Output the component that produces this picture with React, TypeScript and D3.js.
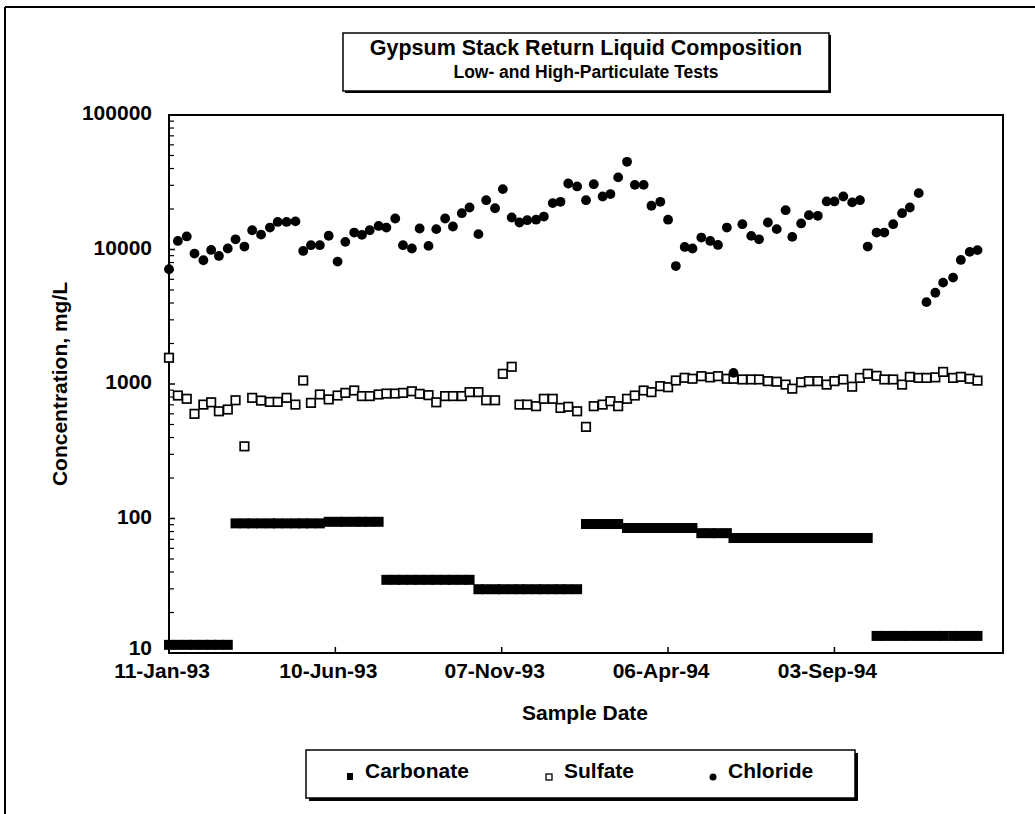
import React from 'react';
import * as d3 from 'd3';

// ---------- data ----------
const startDate = new Date(Date.UTC(1993, 0, 11));
const endDate = new Date(Date.UTC(1995, 1, 2));

// sample dates, days after 11-Jan-93
const sampleDays = [
  0, 8, 16, 23, 31, 38, 45, 53, 60, 68,
  75, 83, 91, 98, 106, 114, 121, 128, 136, 144,
  152, 159, 167, 174, 181, 189, 196, 204, 211, 219,
  226, 234, 241, 249, 256, 264, 271, 279, 286, 294,
  301, 309, 316, 323, 331, 338, 346, 353, 360, 368,
  376, 383, 391, 398, 405, 413, 420, 428, 435, 443,
  450, 457, 465, 472, 480, 488, 495, 503, 509, 517,
  525, 532, 540, 548, 556, 562, 570, 577, 585, 593,
  600, 608, 616, 623, 630, 638, 645, 653, 661, 668,
  676, 683, 691, 698, 707, 714, 722, 729,
];

const carbonate = [
  11.5, 11.5, 11.5, 11.5, 11.5, 11.5, 11.5, 11.5, 92, 92,
  92, 92, 92, 92, 92, 92, 92, 92, 92, 94.5,
  94.5, 94.5, 94.5, 94.5, 94.5, 94.5, 35, 35, 35, 35,
  35, 35, 35, 35, 35, 35, 35, 29.8, 29.8, 29.8,
  29.8, 29.8, 29.8, 29.8, 29.8, 29.8, 29.8, 29.8, 29.8, 29.8,
  91, 91, 91, 91, 91, 85, 85, 85, 85, 85,
  85, 85, 85, 85, 77.8, 77.8, 77.8, 77.8, 71.6, 71.6,
  71.6, 71.6, 71.6, 71.6, 71.6, 71.6, 71.6, 71.6, 71.6, 71.6,
  71.6, 71.6, 71.6, 71.6, 71.6, 13.4, 13.4, 13.4, 13.4, 13.4,
  13.4, 13.4, 13.4, 13.4, 13.4, 13.4, 13.4, 13.4,
];

const sulfate = [
  1567, 821, 776, 600, 703, 731, 627, 646, 757, 344,
  789, 753, 736, 736, 789, 703, 1062, 724, 836, 768,
  821, 859, 895, 813, 813, 836, 849, 849, 859, 883,
  845, 826, 731, 813, 813, 813, 870, 870, 757, 757,
  1191, 1343, 703, 703, 684, 776, 776, 664, 677, 627,
  480, 684, 703, 745, 684, 776, 821, 895, 870, 964,
  946, 1062, 1112, 1094, 1143, 1120, 1143, 1094, 1094, 1081,
  1081, 1081, 1050, 1040, 990, 923, 1030, 1050, 1050, 990,
  1050, 1081, 955, 1110, 1191, 1150, 1081, 1081, 990, 1130,
  1110, 1110, 1120, 1230, 1110, 1130, 1094, 1060,
];

const chloride = [
  7130, 11580, 12500, 9330, 8320, 9930, 8960, 10170, 11910, 10520,
  13900, 12900, 14560, 16030, 16030, 16180, 9760, 10760, 10760, 12650,
  8130, 11400, 13370, 12840, 13900, 14960, 14560, 17000, 10760, 10170,
  14330, 10640, 14170, 17000, 14830, 18620, 20530, 13010, 23260, 20270,
  28120, 17300, 15880, 16520, 16650, 17570, 22130, 22620, 30960, 29420,
  23260, 30600, 24770, 25830, 34360, 44860, 30250, 30250, 21150, 22620,
  16650, 7530, 10450, 10170, 12270, 11580, 10810, 14560, 1210, 15420,
  12620, 11910, 15880, 14170, 19590, 12410, 15630, 17990, 17800, 22760,
  22760, 24770, 22400, 23260, 10520, 13370, 13370, 15420, 18620, 20530,
  26240, 4060, 4770, 5670, 6180, 8360, 9600, 9890,
];

const tickDays = [0, 150, 300, 450, 600];
const yTickValues = [10, 100, 1000, 10000, 100000];
const minorMultipliers = [2, 3, 4, 5, 6, 7, 8, 9];

const titleText = 'Gypsum Stack Return Liquid Composition';
const subtitleText = 'Low- and High-Particulate Tests';
const xAxisTitle = 'Sample Date';
const yAxisTitle = 'Concentration, mg/L';
const legendItems = ['Carbonate', 'Sulfate', 'Chloride'];

// ---------- layout ----------
const W = 1035;
const H = 814;
const P = { left: 169, right: 1003, top: 115, bottom: 653 };
const FONT = '"Liberation Sans", Arial, Helvetica, sans-serif';

export default function App() {
  const x = d3.scaleUtc().domain([startDate, endDate]).range([P.left, P.right]);
  const y = d3.scaleLog().domain([10, 100000]).range([P.bottom, P.top]);
  const fmt = d3.utcFormat('%d-%b-%y');
  const dates = sampleDays.map((d) => d3.utcDay.offset(startDate, d));
  const ticks = tickDays.map((d) => d3.utcDay.offset(startDate, d));

  const minor: number[] = [];
  yTickValues.slice(0, -1).forEach((dec) => minorMultipliers.forEach((m) => minor.push(dec * m)));

  const cs = 10; // carbonate square size
  const ss = 8.5; // sulfate square size
  const cr = 4.9; // chloride radius

  const legendY = 776;
  const legendX = [350, 549, 713];

  return (
    <svg width={W} height={H} style={{ position: 'absolute', left: 0, top: 0, background: '#fff' }}
      fontFamily={FONT} fontWeight="bold">
      <rect x={0} y={0} width={W} height={H} fill="#fff" />
      {/* outer frame */}
      <line x1={5} y1={7} x2={W} y2={7} stroke="#000" strokeWidth={2} />
      <line x1={5} y1={7} x2={5} y2={H} stroke="#000" strokeWidth={2} />

      {/* title box */}
      <rect x={345} y={35} width={486} height={58} fill="#000" />
      <rect x={343} y={33} width={486} height={58} fill="#fff" stroke="#000" strokeWidth={1.5} />
      <text x={586} y={55} textAnchor="middle" fontSize={21.5}>{titleText}</text>
      <text x={586} y={78} textAnchor="middle" fontSize={17.5}>{subtitleText}</text>

      {/* plot frame */}
      <rect x={P.left} y={P.top} width={P.right - P.left} height={P.bottom - P.top}
        fill="none" stroke="#000" strokeWidth={2} />

      {/* y ticks */}
      {yTickValues.map((v, i) => (
        <g key={'y' + v}>
          <line x1={P.left} x2={P.left + 6} y1={y(v)} y2={y(v)} stroke="#000" strokeWidth={1.5} />
          <text x={152} y={y(v) + (i === 0 ? 2 : 5)} textAnchor="end" fontSize={21}>{v}</text>
        </g>
      ))}
      {minor.map((v) => (
        <line key={'m' + v} x1={P.left} x2={P.left + 5} y1={y(v)} y2={y(v)} stroke="#000" strokeWidth={1.2} />
      ))}

      {/* x ticks */}
      {ticks.map((t, i) => (
        <g key={'x' + i}>
          <line x1={x(t)} x2={x(t)} y1={P.bottom} y2={P.bottom - 6} stroke="#000" strokeWidth={1.5} />
          <text x={x(t) - 7} y={678} textAnchor="middle" fontSize={21}>{fmt(t)}</text>
        </g>
      ))}

      {/* axis titles */}
      <text x={585} y={720} textAnchor="middle" fontSize={21}>{xAxisTitle}</text>
      <text transform={`translate(67,${(P.top + P.bottom) / 2}) rotate(-90)`} textAnchor="middle" fontSize={21}>
        {yAxisTitle}
      </text>

      {/* carbonate */}
      {dates.map((d, i) => (
        <rect key={'c' + i} x={x(d) - cs / 2} y={y(carbonate[i]) - cs / 2} width={cs} height={cs} fill="#000" />
      ))}
      {/* sulfate */}
      {dates.map((d, i) => (
        <rect key={'s' + i} x={x(d) - ss / 2} y={y(sulfate[i]) - ss / 2} width={ss} height={ss}
          fill="#fff" stroke="#000" strokeWidth={1.7} />
      ))}
      {/* chloride */}
      {dates.map((d, i) => (
        <circle key={'k' + i} cx={x(d)} cy={y(chloride[i])} r={cr} fill="#000" />
      ))}

      {/* legend */}
      <rect x={309} y={753} width={549} height={48} fill="#000" />
      <rect x={306} y={750} width={549} height={48} fill="#fff" stroke="#000" strokeWidth={1.5} />
      <rect x={legendX[0] - 3} y={legendY - 3} width={6} height={7} fill="#000" />
      <rect x={legendX[1] - 3} y={legendY - 2} width={6} height={6} fill="#fff" stroke="#000" strokeWidth={1.3} />
      <circle cx={legendX[2]} cy={legendY + 1} r={3.5} fill="#000" />
      {legendItems.map((t, i) => (
        <text key={t} x={legendX[i] + 15} y={778} fontSize={21}>{t}</text>
      ))}
    </svg>
  );
}
